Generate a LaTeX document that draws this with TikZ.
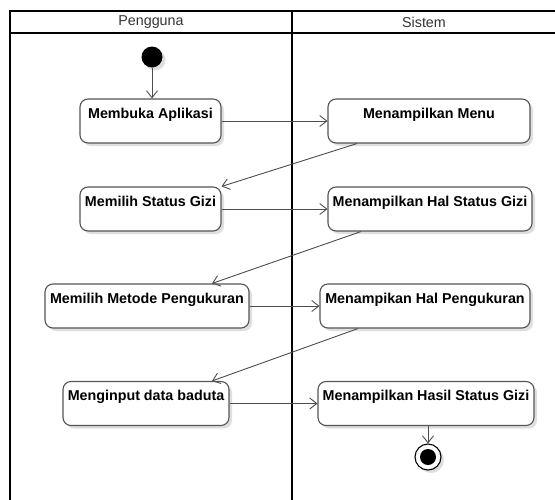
\documentclass[tikz,border=0pt]{standalone}
\usepackage{fontspec}
\setmainfont{Liberation Sans}
\usetikzlibrary{
arrows.meta,
positioning,
shadows
}
\definecolor{linegray}{HTML}{4D4D4D}
\definecolor{boxgray}{HTML}{555555}
\tikzset{>={Straight Barb[length=7pt,width=11pt]}}
\tikzset{
	lane/.style={draw=black,line width=2pt},
	header/.style={text=black!80,font=\fontsize{14.3}{16}\selectfont},
	activity/.style={draw=boxgray,line width=1.1pt,fill=white,rounded corners=8pt,
		minimum height=44pt,inner xsep=3pt,inner ysep=4pt,text height=15pt,text depth=21pt,
		font=\fontsize{14.3}{16}\selectfont\bfseries,
		drop shadow={shadow xshift=3pt,shadow yshift=-3pt,fill=black!25}},
	initial/.style={circle,fill=black,inner sep=0pt,minimum size=21pt,
		drop shadow={shadow xshift=3pt,shadow yshift=-3pt,fill=black!25}},
	final/.style={circle,draw=black,line width=1.1pt,fill=white,inner sep=0pt,minimum size=26pt,
		path picture={\fill[black] (path picture bounding box.center) circle (8pt);},
		drop shadow={shadow xshift=3pt,shadow yshift=-3pt,fill=black!25}},
	flow/.style={->,draw=linegray,line width=0.9pt}
}

\begin{document}
\begin{tikzpicture}[x=1pt, y=-1pt]
		\useasboundingbox (0,0) rectangle (555,499);
		
		\draw[lane] (10,11) rectangle (558,502);
		\draw[lane] (10,33) -- (558,33);
		\draw[lane] (292,11) -- (292,502);
		\node[header] (pengguna) at (151,22) {Pengguna};
		\node[header] (sistem)   at (424,22) {Sistem};
		
		\node[initial] (start) at (152,57) {};
		
		\node[activity,minimum width=141pt] (aplikasi)   at (150.5,121) {Membuka Aplikasi};
		\node[activity,minimum width=202pt] (menu)       at (429,121)   {Menampilkan Menu};
		\node[activity,minimum width=141pt] (statusgizi) at (150.5,209) {Memilih Status Gizi};
		\node[activity,minimum width=204pt] (halstatus)  at (430,209)   {Menampilkan Hal Status Gizi};
		\node[activity,minimum width=204pt] (metode)     at (147,306)   {Memilih Metode Pengukuran};
		\node[activity,minimum width=210pt] (halukur)    at (425,306)   {Menampikan Hal Pengukuran};
		\node[activity,minimum width=166pt] (input)      at (146,403.5) {Menginput data baduta};
		\node[activity,minimum width=216pt] (hasil)      at (426,403.5) {Menampilkan Hasil Status Gizi};
		
		\node[final] (end) at (428,457) {};
		
		\draw[flow] (start) -- (start |- aplikasi.north);
		\draw[flow] (aplikasi) -- (menu);
		\draw[flow] ([xshift=-72pt]menu.south) -- (statusgizi.north east);
		\draw[flow] (statusgizi) -- (halstatus);
		\draw[flow] ([xshift=-69pt]halstatus.south) -- ([xshift=65pt]metode.north);
		\draw[flow] (metode) -- (halukur);
		\draw[flow] ([xshift=-67pt]halukur.south) -- ([xshift=66pt]input.north);
		\draw[flow] (input) -- (hasil);
		\draw[flow] (hasil.south -| end) -- (end);
	\end{tikzpicture}
\end{document}
